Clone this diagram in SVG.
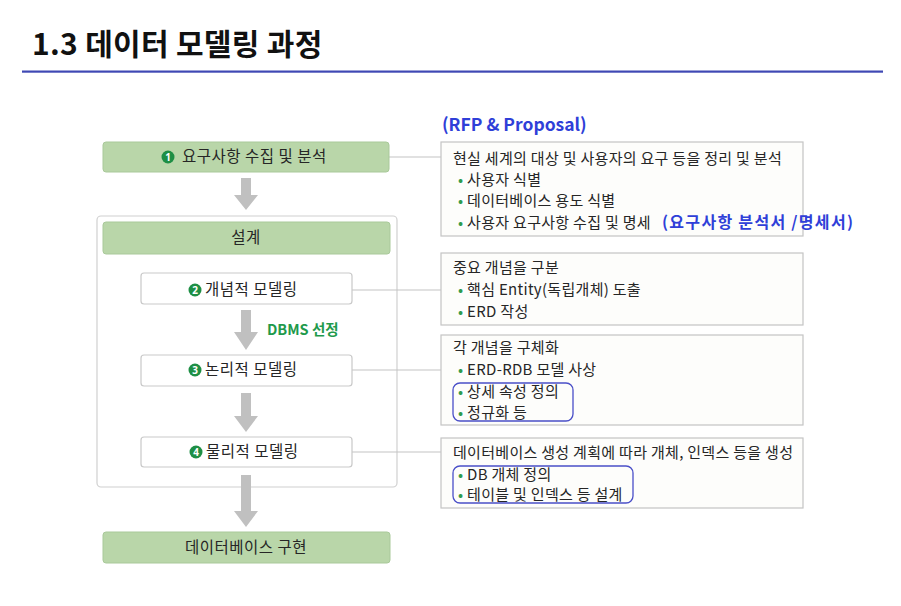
<svg xmlns="http://www.w3.org/2000/svg" width="901" height="606" viewBox="0 0 901 606">
<style>
text{font-family:"Noto Sans CJK KR","Noto Sans",sans-serif;fill:#262626}
.title{font-size:30px;font-weight:bold;fill:#111;letter-spacing:0.3px}
.lbl{font-size:15.5px;letter-spacing:0.5px}
.rt{font-size:15px;letter-spacing:0.3px}
.bul{fill:#2e9b4e}
.blue{fill:#2f3fd8;font-weight:bold}
.green{fill:#b9d6a9;stroke:#a9c99a;stroke-width:1}
.white{fill:#fff;stroke:#c9c9c9;stroke-width:1.2}
.rbox{fill:#fdfdfb;stroke:#c4c4c4;stroke-width:1.2}
.arrow{fill:#c0c0c0}
.num{fill:#1e8f45}
.numt{fill:#fff;font-size:10px;font-weight:bold;font-family:"Noto Sans",sans-serif;letter-spacing:0}
.hl{fill:none;stroke:#4a4fc8;stroke-width:1.3}
.conn{stroke:#c4c4c4;stroke-width:1.2;fill:none}
</style>
<rect x="0" y="0" width="901" height="606" fill="#fff"/>
<g id="title">
<text class="title" x="32" y="55">1.3 데이터 모델링 과정</text>
<rect x="22" y="70.5" width="861" height="2.2" fill="#3f48b4"/>
</g>
<g id="design-frame">
<rect x="97" y="216" width="300" height="271" rx="4" fill="#fff" stroke="#d0d0d0" stroke-width="1.2"/>
</g>
<g id="connectors">
<line class="conn" x1="389" y1="157" x2="441" y2="157"/>
<line class="conn" x1="352" y1="290" x2="441" y2="290"/>
<line class="conn" x1="352" y1="370" x2="441" y2="370"/>
<line class="conn" x1="352" y1="452" x2="441" y2="452"/>
<polygon class="arrow" points="241,178 251,178 251,195 258,195 246,210 234,195 241,195"/>
<polygon class="arrow" points="241,310 251,310 251,332 258,332 246,350 234,332 241,332"/>
<polygon class="arrow" points="241,393 251,393 251,416 258,416 246,432 234,416 241,416"/>
<polygon class="arrow" points="241,475 251,475 251,511 258,511 246,527 234,511 241,511"/>
</g>
<g id="node-req">
<rect class="green" x="103" y="142" width="286" height="30" rx="3"/>
<circle class="num" cx="168" cy="157" r="6.5"/>
<text class="numt" x="168" y="160.5" text-anchor="middle">1</text>
<text class="lbl" x="182" y="162">요구사항 수집 및 분석</text>
</g>
<g id="node-design">
<rect class="green" x="103" y="222" width="287" height="32" rx="3"/>
<text class="lbl" x="246" y="243" text-anchor="middle">설계</text>
</g>
<g id="node-concept">
<rect class="white" x="141" y="273" width="211" height="31" rx="3"/>
<circle class="num" cx="195" cy="290" r="6.5"/>
<text class="numt" x="195" y="293.5" text-anchor="middle">2</text>
<text class="lbl" x="205" y="295">개념적 모델링</text>
</g>
<g id="dbms-label">
<text x="267" y="335" font-size="14.5" font-weight="bold" style="fill:#1f9a4c">DBMS 선정</text>
</g>
<g id="node-logical">
<rect class="white" x="141" y="355" width="211" height="31" rx="3"/>
<circle class="num" cx="195" cy="370" r="6.5"/>
<text class="numt" x="195" y="373.5" text-anchor="middle">3</text>
<text class="lbl" x="205" y="375">논리적 모델링</text>
</g>
<g id="node-physical">
<rect class="white" x="141" y="437" width="211" height="30" rx="3"/>
<circle class="num" cx="196" cy="452" r="6.5"/>
<text class="numt" x="196" y="455.5" text-anchor="middle">4</text>
<text class="lbl" x="206" y="457">물리적 모델링</text>
</g>
<g id="node-impl">
<rect class="green" x="103" y="532" width="287" height="31" rx="3"/>
<text class="lbl" x="246" y="553" text-anchor="middle">데이터베이스 구현</text>
</g>
<g id="rfp-label">
<text class="blue" x="442" y="131" font-size="17.5">(RFP &amp; Proposal)</text>
</g>
<g id="desc-req">
<rect class="rbox" x="441" y="142" width="362" height="94"/>
<text class="rt" x="453" y="164">현실 세계의 대상 및 사용자의 요구 등을 정리 및 분석</text>
<text class="rt" x="458" y="185"><tspan class="bul">•</tspan> 사용자 식별</text>
<text class="rt" x="458" y="206"><tspan class="bul">•</tspan> 데이터베이스 용도 식별</text>
<text class="rt" x="458" y="228"><tspan class="bul">•</tspan> 사용자 요구사항 수집 및 명세</text>
<text class="blue" x="662" y="228" font-size="16" letter-spacing="1.3">(요구사항 분석서 /명세서)</text>
</g>
<g id="desc-concept">
<rect class="rbox" x="441" y="253" width="362" height="72"/>
<text class="rt" x="453" y="273">중요 개념을 구분</text>
<text class="rt" x="458" y="295"><tspan class="bul">•</tspan> 핵심 Entity(독립개체) 도출</text>
<text class="rt" x="458" y="317"><tspan class="bul">•</tspan> ERD 작성</text>
</g>
<g id="desc-logical">
<rect class="rbox" x="441" y="335" width="362" height="90"/>
<text class="rt" x="453" y="353">각 개념을 구체화</text>
<text class="rt" x="458" y="375"><tspan class="bul">•</tspan> ERD-RDB 모델 사상</text>
<text class="rt" x="458" y="397"><tspan class="bul">•</tspan> 상세 속성 정의</text>
<text class="rt" x="458" y="418"><tspan class="bul">•</tspan> 정규화 등</text>
<rect class="hl" x="453" y="383" width="120" height="38" rx="7"/>
</g>
<g id="desc-physical">
<rect class="rbox" x="441" y="438" width="362" height="70"/>
<text class="rt" x="453" y="458">데이터베이스 생성 계획에 따라 개체, 인덱스 등을 생성</text>
<text class="rt" x="458" y="480"><tspan class="bul">•</tspan> DB 개체 정의</text>
<text class="rt" x="458" y="500"><tspan class="bul">•</tspan> 테이블 및 인덱스 등 설계</text>
<rect class="hl" x="453" y="466" width="180" height="37" rx="7"/>
</g>
</svg>
